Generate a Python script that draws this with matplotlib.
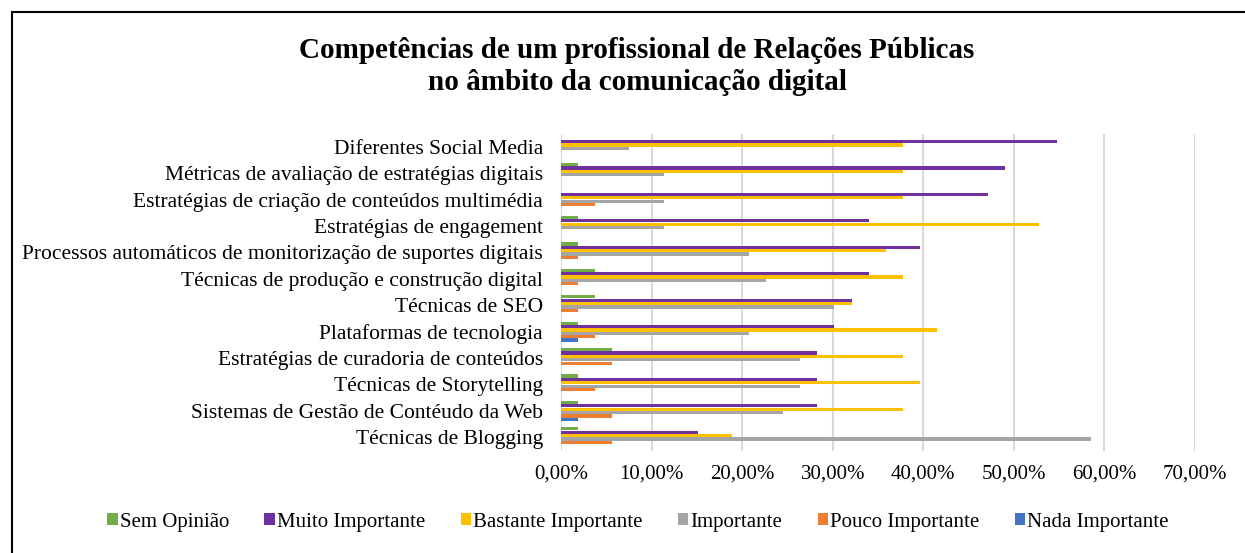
import numpy as np
import matplotlib.pyplot as plt
from matplotlib.patches import Rectangle
from matplotlib.ticker import FuncFormatter

plt.rcParams['font.family'] = ['Liberation Serif', 'DejaVu Serif']

categorias = [
    "Diferentes Social Media",
    "Métricas de avaliação de estratégias digitais",
    "Estratégias de criação de conteúdos multimédia",
    "Estratégias de engagement",
    "Processos automáticos de monitorização de suportes digitais",
    "Técnicas de produção e construção digital",
    "Técnicas de SEO",
    "Plataformas de tecnologia",
    "Estratégias de curadoria de conteúdos",
    "Técnicas de Storytelling",
    "Sistemas de Gestão de Contéudo da Web",
    "Técnicas de Blogging",
]

sem_opiniao = [0.00, 1.89, 0.00, 1.89, 1.89, 3.77, 3.77, 1.89, 5.66, 1.89, 1.89, 1.89]
muito = [54.72, 49.06, 47.17, 33.96, 39.62, 33.96, 32.08, 30.19, 28.30, 28.30, 28.30, 15.09]
bastante = [37.74, 37.74, 37.74, 52.83, 35.85, 37.74, 32.08, 41.51, 37.74, 39.62, 37.74, 18.87]
importante = [7.55, 11.32, 11.32, 11.32, 20.75, 22.64, 30.19, 20.75, 26.42, 26.42, 24.53, 58.49]
pouco = [0.00, 0.00, 3.77, 0.00, 1.89, 1.89, 1.89, 3.77, 5.66, 3.77, 5.66, 5.66]
nada = [0.00, 0.00, 0.00, 0.00, 0.00, 0.00, 0.00, 1.89, 0.00, 0.00, 1.89, 0.00]

series = ["Sem Opinião", "Muito Importante", "Bastante Importante",
          "Importante", "Pouco Importante", "Nada Importante"]
valores = [sem_opiniao, muito, bastante, importante, pouco, nada]
cores = ["#70AD47", "#7030A0", "#FFC000", "#A5A5A5", "#ED7D31", "#4472C4"]

fig = plt.figure(figsize=(12.45, 5.53), dpi=100)
ax = fig.add_axes([561 / 1245, 1 - 450.5 / 553, (1195 - 561) / 1245, (450.5 - 133.5) / 553])

y = np.arange(len(categorias))
h = 0.128
for j, (nome, vals, cor) in enumerate(zip(series, valores, cores)):
    ax.barh(y + (j - 2.5) * h, vals, height=h * 0.95, color=cor, label=nome, zorder=3)

ax.set_xlim(0, 70)
ax.set_ylim(len(categorias) - 0.5, -0.5)
ax.set_xticks(np.arange(0, 71, 10))
ax.xaxis.set_major_formatter(FuncFormatter(lambda v, p: f"{v:.2f}%".replace(".", ",")))
ax.set_yticks(y)
ax.set_yticklabels(categorias)
ax.tick_params(axis='both', length=0)
ax.tick_params(axis='x', pad=10, labelsize=15)
ax.tick_params(axis='y', pad=13, labelsize=15.5)
ax.grid(axis='x', color='#d9d9d9', linewidth=1.5, zorder=0)
for s in ax.spines.values():
    s.set_visible(False)

fig.text(637 / 1245, 1 - 50 / 553, "Competências de um profissional de Relações Públicas",
         ha='center', va='center', fontsize=21, fontweight='bold')
fig.text(637 / 1245, 1 - 83 / 553, "no âmbito da comunicação digital",
         ha='center', va='center', fontsize=21, fontweight='bold')

fig.legend(loc='center', bbox_to_anchor=(638 / 1245, 1 - 522 / 553), ncol=6,
           frameon=False, fontsize=15, handlelength=0.5, handleheight=0.5,
           handletextpad=0.1, columnspacing=1.7)

fig.patches.append(Rectangle((12 / 1245, -0.2), 1.5, 1 - 12 / 553 + 0.2,
                             transform=fig.transFigure, fill=False,
                             edgecolor='black', linewidth=1.5))

fig.savefig("out.png", dpi=100)
